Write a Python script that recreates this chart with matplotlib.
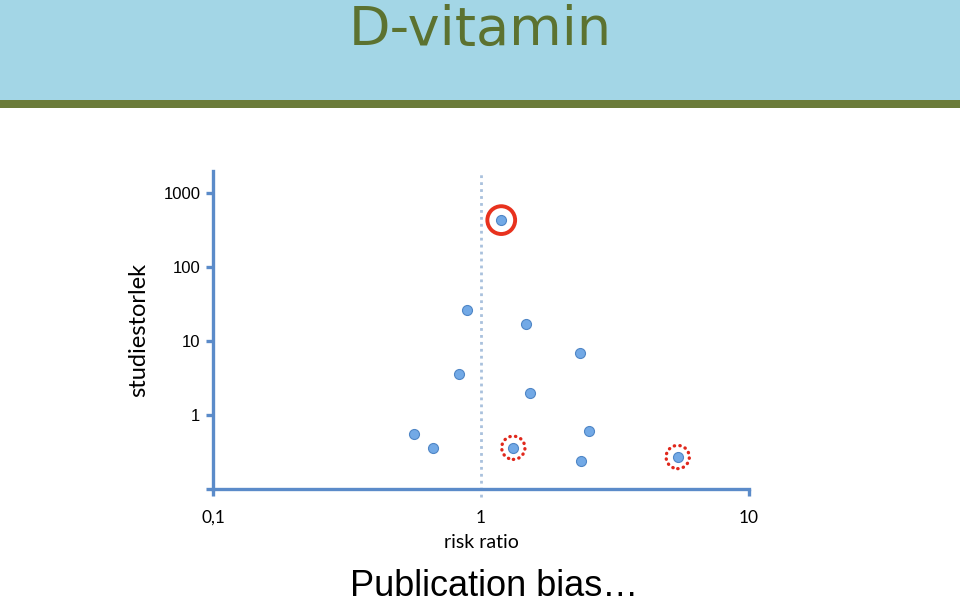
import matplotlib
matplotlib.use('Agg')
import matplotlib.pyplot as plt
from matplotlib.patches import Rectangle

# data
risk_ratio = [1.19, 0.89, 1.47, 2.35, 0.83, 1.52, 0.56, 0.66, 1.32, 2.54, 2.37, 5.42]
study_size = [425, 25.7, 17.1, 6.9, 3.6, 2.0, 0.55, 0.36, 0.36, 0.61, 0.24, 0.27]
solid_ring = [0]
dotted_ring = [8, 11]

x_ticks = [0.1, 1, 10]
x_labels = ['0,1', '1', '10']
y_ticks = [0.1, 1, 10, 100, 1000]
y_labels = ['', '1', '10', '100', '1000']

axis_blue = '#5b8bc9'

fig = plt.figure(figsize=(9.6, 6.02), dpi=100)

# slide header
fig.patches.append(Rectangle((0, 1 - 100 / 602), 1, 100 / 602, transform=fig.transFigure,
                             facecolor='#a3d6e6', edgecolor='none', zorder=0))
fig.patches.append(Rectangle((0, 1 - 108 / 602), 1, 8 / 602, transform=fig.transFigure,
                             facecolor='#6b7b3a', edgecolor='none', zorder=0))
fig.text(0.5, 1 - 30 / 602, 'D-vitamin', ha='center', va='center', fontsize=39,
         color='#5c7230', family='DejaVu Sans')

ax = fig.add_axes([213 / 960, 1 - 489 / 602, (749 - 213) / 960, (489 - 171) / 602])
ax.set_xscale('log')
ax.set_yscale('log')
ax.set_xlim(0.1, 10)
ax.set_ylim(0.1, 1955)

ax.axvline(1, ymin=-0.025, ymax=1, color='#a9c1dd', linestyle=(0, (1, 1.5)), lw=2,
           clip_on=False, zorder=1)

ax.scatter(risk_ratio, study_size, s=52, facecolor='#72a9e6', edgecolor='#4f86c6',
           linewidth=0.8, zorder=3)

ax.scatter([risk_ratio[i] for i in solid_ring], [study_size[i] for i in solid_ring],
           s=400, facecolor='none', edgecolor='#e8321e', linewidth=2.8, zorder=4)
rings = ax.scatter([risk_ratio[i] for i in dotted_ring], [study_size[i] for i in dotted_ring],
                   s=280, facecolor='none', edgecolor='#e0281c', linewidth=2.4,
                   linestyle=(0, (0.1, 1.6)), zorder=4)
rings.set_capstyle('round')

for side in ['top', 'right']:
    ax.spines[side].set_visible(False)
for side in ['left', 'bottom']:
    ax.spines[side].set_color(axis_blue)
    ax.spines[side].set_linewidth(2.4)

ax.set_xticks(x_ticks)
ax.set_xticklabels(x_labels)
ax.set_yticks(y_ticks)
ax.set_yticklabels(y_labels)
ax.minorticks_off()
ax.tick_params(axis='both', colors=axis_blue, width=2.4, length=5)
ax.tick_params(axis='x', pad=10, labelcolor='black', labelsize=12.5,
               labelfontfamily='Lato')
ax.tick_params(axis='y', pad=4, labelcolor='black', labelsize=12,
               labelfontfamily='Liberation Sans')
ax.xaxis.get_major_ticks()[1].tick1line.set_visible(False)

ax.set_xlabel('risk ratio', fontsize=14, family='Lato', labelpad=6)
ax.set_ylabel('studiestorlek', fontsize=17, family='Lato', labelpad=10)
ax.patch.set_alpha(0)

fig.text(494 / 960, 1 - 586 / 602, 'Publication bias…', ha='center', va='center',
         fontsize=26, family='Liberation Sans', color='black')

plt.savefig('out.png', dpi=100)
plt.close()
